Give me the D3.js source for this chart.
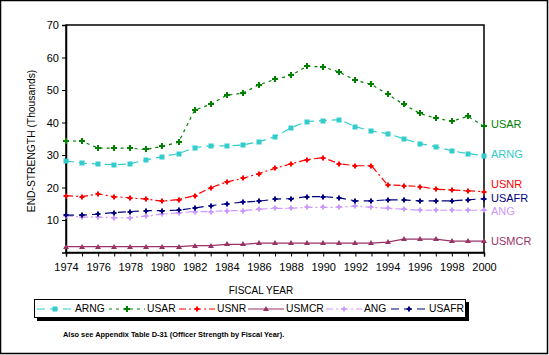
<!DOCTYPE html>
<html><head><meta charset="utf-8">
<script src="https://cdn.jsdelivr.net/npm/d3@7"></script>
<style>body{margin:0;background:#fff}svg{display:block}text{font-family:"Liberation Sans",Arial,sans-serif}</style>
</head><body>
<svg id="c" width="549" height="355"></svg>
<script>
const years = d3.range(1974, 2001);
const ARNG  = [28.2,27.5,27.2,27.0,27.3,28.5,29.5,30.4,32.3,32.8,32.8,33.1,34.1,35.6,38.4,40.3,40.6,40.9,38.7,37.4,36.6,35.0,33.5,32.6,31.3,30.4,29.8];
const USAR  = [34.4,34.2,32.1,32.1,32.1,31.7,32.7,33.9,43.8,45.6,48.4,49.0,51.6,53.3,54.5,57.3,57.1,55.5,53.0,51.7,48.7,45.6,42.8,41.3,40.4,41.9,38.8];
const USNR  = [17.5,17.2,18.0,17.2,16.8,16.4,15.8,16.3,17.5,19.9,21.7,22.8,24.3,25.9,27.3,28.6,29.2,27.3,26.7,26.7,20.8,20.6,20.3,19.5,19.2,19.0,18.7];
const USMCR = [1.8,1.8,1.8,1.8,1.8,1.8,1.8,1.8,2.1,2.1,2.5,2.5,2.9,2.9,2.9,2.9,2.9,2.9,2.9,2.9,3.2,4.1,4.1,4.1,3.5,3.5,3.5];
const ANG   = [11.3,10.9,10.9,10.7,10.7,11.2,11.8,12.2,12.6,12.6,12.9,12.9,13.3,13.6,13.6,13.9,13.9,13.9,14.3,13.9,13.6,13.3,13.0,13.0,13.0,13.0,13.0];
const USAFR = [11.5,11.5,11.8,12.3,12.6,12.9,12.9,13.0,13.7,14.4,15.0,15.5,15.8,16.4,16.6,17.2,17.2,16.8,15.9,15.9,16.2,16.2,15.9,15.9,15.9,16.2,16.6];
const yTicks = [10,20,30,40,50,60,70];
const xTickLabels = d3.range(1974, 2001, 2);
const seriesNames = ["ARNG","USAR","USNR","USMCR","ANG","USAFR"];

const series = [
  {name:"ARNG", vals:ARNG, color:"#33CCCC", dash:"8,5", marker:"square", lab:155},
  {name:"USAR", vals:USAR, color:"#008000", dash:"3,4", marker:"cross", lab:125},
  {name:"USNR", vals:USNR, color:"#FF0000", dash:"7,3,2,3", marker:"dot", lab:185},
  {name:"USMCR", vals:USMCR, color:"#993366", dash:null, marker:"triangle", lab:242},
  {name:"ANG", vals:ANG, color:"#CC99FF", dash:"7,3,2,3", marker:"dot", lab:212},
  {name:"USAFR", vals:USAFR, color:"#000080", dash:"8,5", marker:"dot", lab:199}
];

const FONT = "Liberation Sans, Arial, sans-serif";
const svg = d3.select("#c");
svg.append("rect").attr("x",0.5).attr("y",0.5).attr("width",547).attr("height",353).attr("fill","#fff").attr("stroke","#000").attr("stroke-width",1.5);

const L=66, R=484, T=25, B=252.5;
const x = d3.scaleLinear().domain([1974,2000]).range([L,R]);
const y = d3.scaleLinear().domain([0,70]).range([B,T]);

svg.append("rect").attr("x",L).attr("y",T).attr("width",R-L).attr("height",B-T).attr("fill","none").attr("stroke","#000").attr("stroke-width",1.5);

const ya = svg.append("g").attr("transform",`translate(${L},0)`)
  .call(d3.axisLeft(y).tickValues(yTicks).tickSize(4).tickPadding(3));
ya.select(".domain").attr("stroke-width",1.5);
ya.selectAll("text").attr("font-size",11).attr("font-family",FONT).attr("fill","#000");

const xa = svg.append("g").attr("transform",`translate(0,${B})`)
  .call(d3.axisBottom(x).tickValues(years).tickSize(4).tickPadding(7).tickFormat(d => xTickLabels.includes(d) ? d : ""));
xa.select(".domain").attr("stroke-width",1.5);
xa.selectAll("text").attr("font-size",11).attr("font-family",FONT).attr("fill","#000");

svg.append("text").attr("transform","translate(32,141) rotate(-90)").attr("text-anchor","middle")
  .attr("font-size",10.3).attr("dominant-baseline","middle").text("END-STRENGTH (Thousands)");
svg.append("text").attr("x",261).attr("y",291).attr("text-anchor","middle").attr("dominant-baseline","middle")
  .attr("font-size",10).text("FISCAL YEAR");

function drawMarker(g, type, cx, cy, color){
  cx = Math.round(cx); cy = Math.round(cy);
  if(type==="square"){
    g.append("rect").attr("x",cx-2.5).attr("y",cy-2.5).attr("width",5).attr("height",5).attr("fill",color);
  } else if(type==="cross"){
    g.append("path").attr("d",`M${cx-1},${cy-3}h2v2h2v2h-2v2h-2v-2h-2v-2h2z`).attr("fill",color);
  } else if(type==="triangle"){
    g.append("path").attr("d",`M${cx},${cy-3}L${cx+3},${cy+2}L${cx-3},${cy+2}Z`).attr("fill",color);
  } else {
    g.append("path").attr("d",`M${cx-1},${cy-2.5}h2v1.5h1.5v2h-1.5v1.5h-2v-1.5h-1.5v-2h1.5z`).attr("fill",color);
  }
}

const line = d3.line().x((d,i)=>x(years[i])).y(d=>y(d));
series.forEach(s=>{
  const g = svg.append("g");
  g.append("path").datum(s.vals).attr("d",line).attr("fill","none").attr("stroke",s.color)
    .attr("stroke-width",1.2).attr("stroke-dasharray",s.dash);
  s.vals.forEach((v,i)=>drawMarker(g,s.marker,x(years[i]),y(v),s.color));
  svg.append("text").attr("x",R+7).attr("y",s.lab).attr("dominant-baseline","middle")
    .attr("font-size",11).attr("fill",s.color).text(s.name);
});

// legend
svg.append("rect").attr("x",37).attr("y",302).attr("width",432).attr("height",19).attr("fill","#000");
svg.append("rect").attr("x",34.5).attr("y",299.5).attr("width",431).attr("height",18).attr("fill","#fff").attr("stroke","#000").attr("stroke-width",1);
const legPos = [37,109,179,248,326,391];
series.forEach((s,i)=>{
  const lx = legPos[i], ly = 309;
  svg.append("line").attr("x1",lx).attr("x2",lx+36).attr("y1",ly).attr("y2",ly).attr("stroke",s.color)
    .attr("stroke-width",1.2).attr("stroke-dasharray",s.dash);
  drawMarker(svg,s.marker,lx+18,ly,s.color);
  svg.append("text").attr("x",lx+38).attr("y",ly).attr("dominant-baseline","middle").attr("font-size",10.3).text(seriesNames[i]);
});

svg.append("text").attr("x",63).attr("y",335).attr("dominant-baseline","middle").attr("font-size",7.4)
  .attr("font-weight","bold").attr("fill","#000").text("Also see Appendix Table D-31 (Officer Strength by Fiscal Year).");
</script>
</body></html>
